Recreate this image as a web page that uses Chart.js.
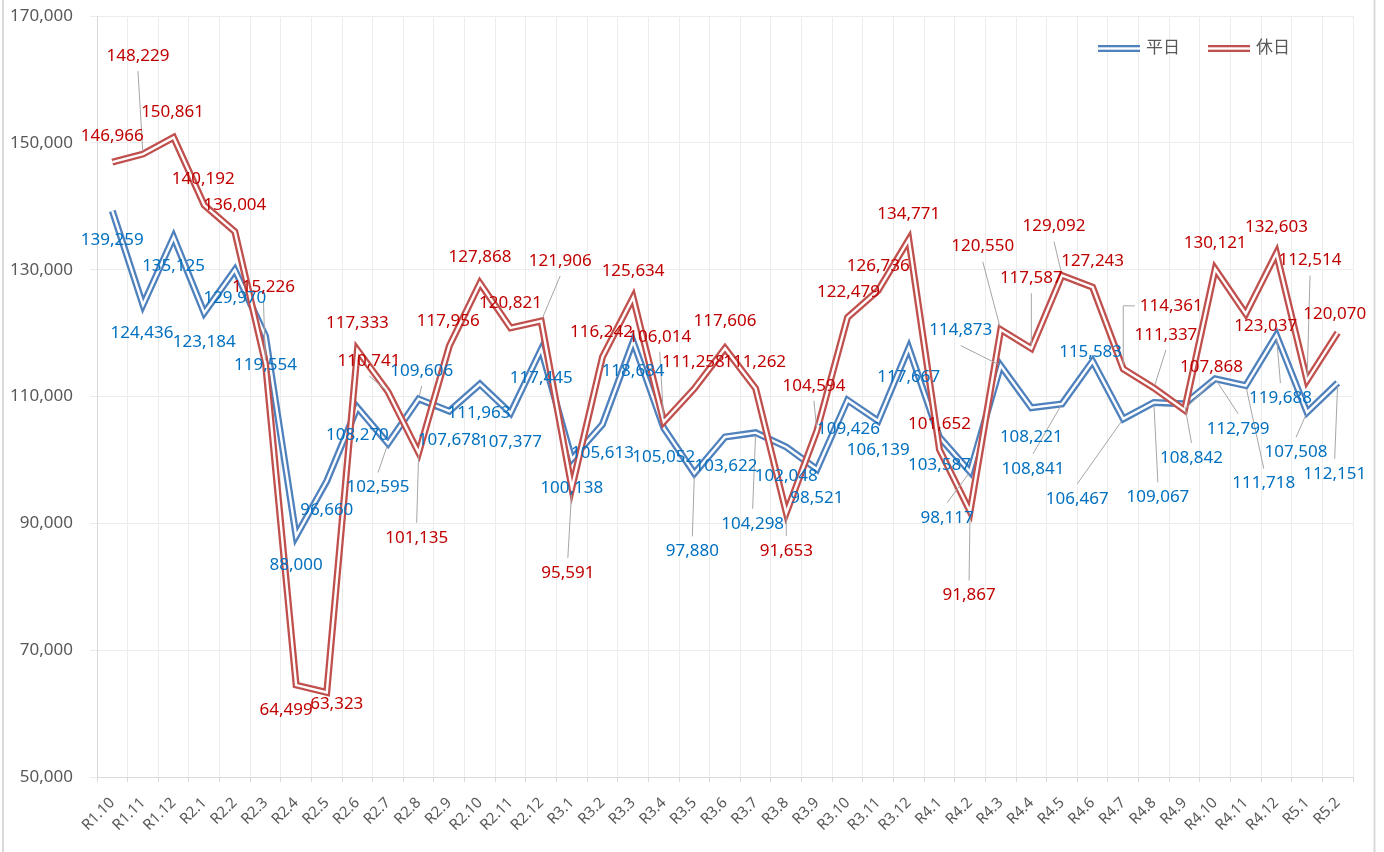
<!DOCTYPE html>
<html>
<head>
<meta charset="utf-8">
<script src="https://cdn.jsdelivr.net/npm/chart.js@4.4.0/dist/chart.umd.min.js"></script>
<style>
  html, body { margin: 0; padding: 0; background: #ffffff; }
  canvas { display: block; }
</style>
</head>
<body>
<canvas id="ridership-chart" width="1384" height="852"></canvas>
<script>
// months (R = Reiwa)
var months = [
    "R1.10", "R1.11", "R1.12",
    "R2.1", "R2.2", "R2.3", "R2.4", "R2.5", "R2.6", "R2.7", "R2.8", "R2.9", "R2.10", "R2.11", "R2.12",
    "R3.1", "R3.2", "R3.3", "R3.4", "R3.5", "R3.6", "R3.7", "R3.8", "R3.9", "R3.10", "R3.11", "R3.12",
    "R4.1", "R4.2", "R4.3", "R4.4", "R4.5", "R4.6", "R4.7", "R4.8", "R4.9", "R4.10", "R4.11", "R4.12",
    "R5.1", "R5.2"
];

var weekday = [
    139259, 124436, 135125,
    123184, 129970, 119554, 88000, 96660, 108270, 102595, 109606, 107678, 111963, 107377, 117445,
    100138, 105613, 118684, 105052, 97880, 103622, 104298, 102048, 98521, 109426, 106139, 117667,
    103587, 98117, 114873, 108221, 108841, 115583, 106467, 109067, 108842, 112799, 111718, 119688,
    107508, 112151
];

var holiday = [
    146966, 148229, 150861,
    140192, 136004, 115226, 64499, 63323, 117333, 110741, 101135, 117956, 127868, 120821, 121906,
    95591, 116242, 125634, 106014, 111258, 117606, 111262, 91653, 104594, 122479, 126736, 134771,
    101652, 91867, 120550, 117587, 129092, 127243, 114361, 111337, 107868, 130121, 123037, 132603,
    112514, 120070
];

var seriesNames = ["平日", "休日"];
var yTicks = [50000, 70000, 90000, 110000, 130000, 150000, 170000];

// label placement: [dx, dy, leader] (1 = straight leader, 2 = elbow)
var weekdayLabelPos = [
    [0, 29, 0], [-1, 28, 0], [0, 29, 0],
    [0, 29, 0], [0, 28, 0], [0, 29, 0], [0, 29, 0], [0, 29, 0], [0, 28, 0], [-10, 44, 1], [3, -28, 1], [0, 29, 0], [-1, 29, 0], [0, 29, 0], [0, 29, 0],
    [0, 29, 0], [0, 29, 0], [0, 30, 0], [0, 29, 0], [-2, 78, 1], [1, 29, 0], [-3, 91, 1], [0, 29, 0], [0, 29, 0], [1, 29, 0], [0, 29, 0], [0, 29, 0],
    [0, 28, 0], [-23, 46, 1], [-40, -35, 1], [0, 29, 0], [-29, 65, 1], [-2, -9, 0], [-46, 80, 1], [4, 95, 1], [7, 54, 1], [23, 50, 1], [18, 98, 1], [4, 63, 1],
    [-11, 40, 1], [-3, 91, 1]
];
var holidayLabelPos = [
    [0, -26, 0], [-5, -98, 1], [-1, -25, 0],
    [-1, -26, 0], [0, -26, 0], [-2, -76, 1], [-10, 25, 0], [10, 12, 0], [0, -27, 0], [-19, -31, 1], [-2, 85, 1], [-1, -25, 0], [0, -26, 0], [0, -25, 0], [19, -60, 1],
    [-4, 85, 1], [-1, -25, 0], [0, -26, 0], [-4, -85, 1], [-1, -26, 0], [0, -27, 0], [-1, -26, 0], [0, 38, 1], [-3, -45, 1], [1, -25, 0], [0, -24, 0], [0, -25, 0],
    [0, -25, 0], [-1, 84, 1], [-18, -83, 1], [0, -70, 1], [-8, -49, 1], [0, -26, 0], [48, -63, 2], [12, -53, 1], [27, -43, 1], [0, -26, 0], [20, 12, 0], [0, -26, 0],
    [3, -120, 1], [-3, -18, 0]
];

var lineColors = ["#4F81BD", "#C0504D"];
var labelColors = ["#0070C0", "#C00000"];
var fontStack = "'Noto Sans', 'Noto Sans CJK JP', sans-serif";

Chart.defaults.font.family = fontStack;

function fmt(v) {
    return v.toLocaleString('en-US');
}

// frame of the excel chart + white background
var framePlugin = {
    id: 'frame',
    beforeDraw: function (chart) {
        var ctx = chart.ctx;
        ctx.save();
        ctx.fillStyle = '#ffffff';
        ctx.fillRect(0, 0, chart.width, chart.height);
        ctx.strokeStyle = '#d9d9d9';
        ctx.lineWidth = 2;
        ctx.beginPath();
        ctx.moveTo(3, 0);
        ctx.lineTo(3, chart.height);
        ctx.moveTo(1374.5, 0);
        ctx.lineTo(1374.5, chart.height);
        ctx.stroke();
        ctx.restore();
    }
};

// data labels with leader lines
var labelPlugin = {
    id: 'valueLabels',
    afterDatasetsDraw: function (chart) {
        var ctx = chart.ctx;
        var sets = [
            { meta: chart.getDatasetMeta(0), values: weekday, pos: weekdayLabelPos, color: labelColors[0] },
            { meta: chart.getDatasetMeta(2), values: holiday, pos: holidayLabelPos, color: labelColors[1] }
        ];
        ctx.save();
        ctx.font = "17px " + fontStack;
        // leader lines first
        ctx.strokeStyle = '#a6a6a6';
        ctx.lineWidth = 1;
        sets.forEach(function (s) {
            s.meta.data.forEach(function (pt, i) {
                var p = s.pos[i];
                if (!p[2]) return;
                var cx = pt.x + p[0];
                var cy = pt.y + p[1];
                var halfW = ctx.measureText(fmt(s.values[i])).width / 2;
                ctx.beginPath();
                if (p[2] === 2) {
                    ctx.moveTo(cx - halfW - 5, cy);
                    ctx.lineTo(pt.x, cy);
                    ctx.lineTo(pt.x, pt.y - 4);
                } else {
                    var sx = cx, sy;
                    if (pt.y > cy + 15) {
                        sy = cy + 15;
                    } else if (pt.y < cy - 15) {
                        sy = cy - 15;
                    } else {
                        sy = cy;
                        sx = pt.x > cx ? cx + halfW + 3 : cx - halfW - 3;
                    }
                    var ex = pt.x, ey = pt.y;
                    var dx = ex - sx, dy = ey - sy;
                    var len = Math.sqrt(dx * dx + dy * dy);
                    if (len > 4) {
                        ex = ex - dx / len * 3;
                        ey = ey - dy / len * 3;
                    }
                    ctx.moveTo(sx, sy);
                    ctx.lineTo(ex, ey);
                }
                ctx.stroke();
            });
        });
        ctx.textAlign = 'center';
        ctx.textBaseline = 'middle';
        sets.forEach(function (s) {
            ctx.fillStyle = s.color;
            s.meta.data.forEach(function (pt, i) {
                var p = s.pos[i];
                ctx.fillText(fmt(s.values[i]), pt.x + p[0], pt.y + p[1]);
            });
        });
        ctx.restore();
    }
};

// legend with double line icons, drawn inside the plot like excel
var legendPlugin = {
    id: 'doubleLegend',
    afterDraw: function (chart) {
        var ctx = chart.ctx;
        var starts = [1098, 1208];
        var y = 48.5;
        ctx.save();
        ctx.font = "17px " + fontStack;
        ctx.textBaseline = 'middle';
        ctx.textAlign = 'left';
        for (var i = 0; i < seriesNames.length; i++) {
            var x0 = starts[i];
            ctx.fillStyle = lineColors[i];
            ctx.fillRect(x0, y - 3.5, 42, 7);
            ctx.fillStyle = '#ffffff';
            ctx.fillRect(x0, y - 1.2, 42, 2.4);
            ctx.fillStyle = '#595959';
            ctx.fillText(seriesNames[i], x0 + 48, y);
        }
        ctx.restore();
    }
};

function lineSet(label, data, color, width, order) {
    return {
        label: label,
        data: data,
        borderColor: color,
        backgroundColor: color,
        borderWidth: width,
        borderJoinStyle: 'miter',
        pointRadius: 0,
        pointHoverRadius: 0,
        tension: 0,
        fill: false,
        order: order
    };
}

var ridershipCanvas = document.getElementById("ridership-chart");

var ridershipChart = new Chart(ridershipCanvas, {
    type: 'line',
    data: {
        labels: months,
        datasets: [
            lineSet(seriesNames[0], weekday, lineColors[0], 7, 3),
            lineSet(seriesNames[0] + "_inner", weekday, '#ffffff', 2.4, 2),
            lineSet(seriesNames[1], holiday, lineColors[1], 7, 1),
            lineSet(seriesNames[1] + "_inner", holiday, '#ffffff', 2.4, 0)
        ]
    },
    options: {
        responsive: false,
        animation: false,
        layout: {
            padding: { top: 16, right: 31, bottom: 0, left: 0 }
        },
        scales: {
            x: {
                offset: true,
                grid: {
                    offset: true,
                    color: '#ececec',
                    tickColor: '#d9d9d9',
                    tickLength: 5
                },
                border: { color: '#d9d9d9', width: 1 },
                ticks: {
                    autoSkip: false,
                    maxRotation: 45,
                    minRotation: 45,
                    padding: 12,
                    color: '#595959',
                    font: { size: 15 }
                },
                afterFit: function (scale) {
                    scale.height = 75;
                }
            },
            y: {
                min: 50000,
                max: 170000,
                afterBuildTicks: function (scale) {
                    scale.ticks = yTicks.map(function (v) { return { value: v }; });
                },
                grid: {
                    color: '#ececec',
                    tickColor: '#ececec',
                    tickLength: 7
                },
                border: { color: '#d9d9d9', width: 1 },
                ticks: {
                    padding: 17,
                    color: '#595959',
                    font: { size: 17 },
                    callback: function (value) {
                        return fmt(value);
                    }
                },
                afterFit: function (scale) {
                    scale.width = 97;
                    scale.paddingTop = 0;
                    scale.paddingBottom = 0;
                }
            }
        },
        plugins: {
            legend: { display: false },
            tooltip: { enabled: false }
        }
    },
    plugins: [framePlugin, labelPlugin, legendPlugin]
});
</script>
</body>
</html>
